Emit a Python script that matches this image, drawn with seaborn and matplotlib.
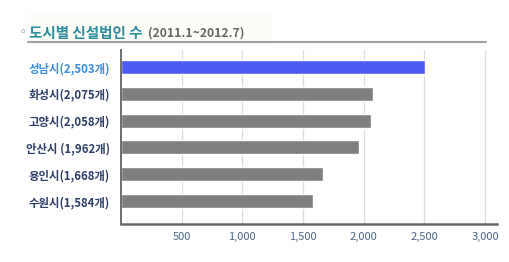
import matplotlib
matplotlib.use("Agg")
import matplotlib.pyplot as plt
import seaborn as sns
import pandas as pd
from matplotlib.ticker import FuncFormatter, FixedLocator
from matplotlib.lines import Line2D

cities = ["성남시", "화성시", "고양시", "안산시", "용인시", "수원시"]
counts = [2503, 2075, 2058, 1962, 1668, 1584]
labels = ["성남시(2,503개)", "화성시(2,075개)", "고양시(2,058개)", "안산시 (1,962개)", "용인시(1,668개)", "수원시(1,584개)"]
bar_colors = ["#4a5cf2", "#7f7f7f", "#7f7f7f", "#7f7f7f", "#7f7f7f", "#7f7f7f"]
xticks = [500, 1000, 1500, 2000, 2500, 3000]

sns.set_theme(style="white")
plt.rcParams['font.family'] = ['Noto Sans CJK KR', 'DejaVu Sans']

df = pd.DataFrame({"label": labels, "count": counts})

fig = plt.figure(figsize=(5.1, 2.62), dpi=100)
ax = fig.add_axes([0.237, 0.145, 0.738, 0.664])
sns.barplot(data=df, x="count", y="label", hue="label", palette=bar_colors,
            legend=False, width=0.52, ax=ax, orient="h", saturation=1)
ax.set_xlim(0, 3100)
ax.set_ylim(5.86, -0.63)
ax.xaxis.set_major_locator(FixedLocator(xticks))
ax.xaxis.set_major_formatter(FuncFormatter(lambda v, p: f"{int(v):,}"))
ax.grid(axis="x", color="#dcdcdc", linewidth=0.9)
ax.set_axisbelow(True)
ax.set_xlabel("")
ax.set_ylabel("")
for s in ["top", "right"]:
    ax.spines[s].set_visible(False)
ax.spines["left"].set_color("#555555")
ax.spines["bottom"].set_color("#666666")
ax.spines["left"].set_linewidth(1.2)
ax.spines["bottom"].set_linewidth(1.8)
ax.tick_params(axis="x", length=0, pad=6, labelsize=8, labelcolor="#4a6585")
ax.tick_params(axis="y", length=0, pad=8, labelsize=8.2)
for t in ax.get_xticklabels():
    t.set_fontweight("medium")
for i, t in enumerate(ax.get_yticklabels()):
    t.set_fontweight("bold")
    t.set_color("#3a8ee0" if i == 0 else "#2c3e66")

# title
fig.patches.append(plt.Rectangle((0.06, 0.845), 0.47, 0.1, transform=fig.transFigure,
                                 color="#fdfdf8", zorder=0))
fig.text(0.033, 0.875, "◦", fontsize=9, color="#9aaab5", va="center", ha="left")
fig.text(0.057, 0.875, "도시별 신설법인 수", fontsize=10.5, fontweight="bold",
         color="#2d8c9e", va="center", ha="left")
fig.text(0.29, 0.875, "(2011.1~2012.7)", fontsize=8.8, fontweight="bold",
         color="#666666", va="center", ha="left")
fig.add_artist(Line2D([0.055, 0.952], [0.84, 0.84], transform=fig.transFigure,
                      color="#a0a0a0", linewidth=1.5))

fig.savefig("out.png", dpi=100, facecolor="white")
